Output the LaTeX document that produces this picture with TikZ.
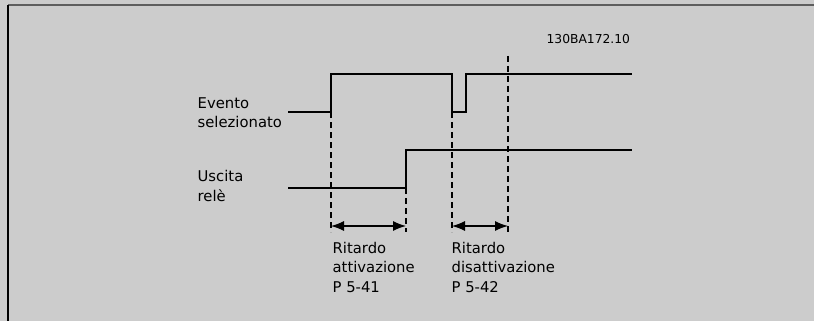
\documentclass[tikz,border=0pt]{standalone}
\usepackage{fontspec}
\setmainfont{DejaVu Sans}
\usepackage{xcolor}
\usepackage{tikz}
\usetikzlibrary{arrows.meta,positioning,calc}

\definecolor{panel}{HTML}{CCCCCC}
\definecolor{frameline}{HTML}{5E5E5E}

\begin{document}
\begin{tikzpicture}[x=1pt, y=-1pt, line width=1.3pt,
  lbl/.style={anchor=base west, inner sep=0pt, align=left, font=\fontsize{14.8}{19.5}\selectfont},
  guide/.style={line width=1.1pt, dash pattern=on 6pt off 4pt},
  gap/.style={{Latex[length=13pt,width=10pt]}-{Latex[length=13pt,width=10pt]}, line width=1.2pt}]
\fill[panel] (0,0) rectangle (814,321);
\useasboundingbox (0,0) rectangle (814,321);
\draw[frameline, line width=2pt] (8,5) -- (814,5);
\draw[black, line width=1.6pt] (8,5) -- (8,321);
% time instants
\coordinate (t1) at (331,0);
\coordinate (t2) at (406,0);
\coordinate (t3) at (452,0);
\coordinate (t4) at (466,0);
\coordinate (t5) at (508,0);
% signals
\draw (288,112) -- (t1 |- 0,112) -- (t1 |- 0,74) -- (t3 |- 0,74) -- (t3 |- 0,112)
  -- (t4 |- 0,112) -- (t4 |- 0,74) -- (632,74);
\draw (288,188) -- (t2 |- 0,188) -- (t2 |- 0,150) -- (632,150);
% guides
\draw[guide] (t1 |- 0,112) -- (t1 |- 0,232);
\draw[guide] (t2 |- 0,188) -- (t2 |- 0,232);
\draw[guide] (t3 |- 0,112) -- (t3 |- 0,232);
\draw[guide] (t5 |- 0,56) -- (t5 |- 0,232);
\draw[gap] (t1 |- 0,226) -- (t2 |- 0,226);
\draw[gap] (t3 |- 0,226) -- (t5 |- 0,226);
% labels (base = last line)
\node[lbl] (ev) at (197,127.5) {Evento\\selezionato};
\node[lbl] (us) at (197,201) {Uscita\\relè};
\node[lbl] (ra) at (332,292) {Ritardo\\attivazione\\P 5-41};
\node[lbl] (rd) at (451,292) {Ritardo\\disattivazione\\P 5-42};
\node[anchor=base west, inner sep=0pt, font=\fontsize{12.3}{14}\selectfont] (code) at (546,43.5) {130BA172.10};
\end{tikzpicture}
\end{document}
